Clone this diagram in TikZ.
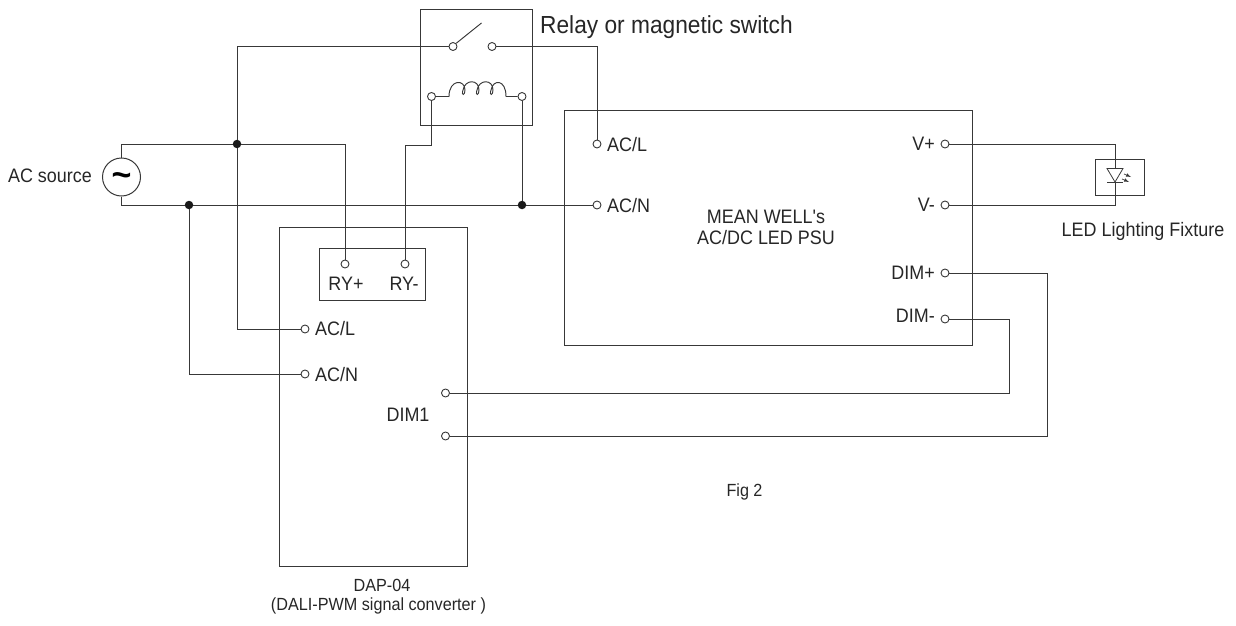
\documentclass[tikz,border=0pt]{standalone}
\usepackage{fontspec}
\setmainfont{Liberation Sans}
\newfontfamily\lf[FakeStretch=0.92]{Liberation Sans}
\tikzset{
 wire/.style={draw=black!78,line width=0.95pt},
 boxx/.style={draw=black!78,line width=0.9pt},
 term/.style={circle,draw=black!78,fill=white,line width=0.9pt,inner sep=0pt,minimum size=8pt},
 dotj/.style={circle,fill=black!90,inner sep=0pt,minimum size=8.5pt},
 lab/.style={inner sep=0pt,font=\lf\fontsize{19.5}{22}\selectfont,text=black!85},
 labs/.style={inner sep=0pt,font=\lf\fontsize{17.6}{20}\selectfont,text=black!85},
}
\begin{document}
\begin{tikzpicture}[x=1pt,y=-1pt]
\useasboundingbox (0,0) rectangle (1236,626);
\draw[boxx] (420.5,9.5) rectangle (532.5,125.5);
\draw[boxx] (564.5,110.5) rectangle (972.5,345.5);
\draw[boxx] (279.5,227.5) rectangle (467.5,566.5);
\draw[boxx] (319.5,248.5) rectangle (425.5,300.5);
\draw[boxx] (1095.5,159.5) rectangle (1144.5,195.5);
\coordinate (swac) at (453,46.5);
\coordinate (swbc) at (492,46.5);
\coordinate (coac) at (431.5,96.5);
\coordinate (cobc) at (522,96.5);
\node[dotj] (j1) at (237,144) {};
\node[dotj] (j2) at (189,205) {};
\node[dotj] (j3) at (522,205) {};
\node[circle,draw=black!78,line width=1pt,minimum size=38pt,inner sep=0pt,fill=white] (ac) at (121.5,177) {};
\node[inner sep=0pt,font=\fontsize{34}{34}\selectfont\bfseries] (tilde) at (121.5,180) {\char"007E};
\node[term] (swa) at (swac) {};
\node[term] (swb) at (swbc) {};
\node[term] (coa) at (coac) {};
\node[term] (cob) at (cobc) {};
\node[term] (pl) at (597,144) {};
\node[term] (pn) at (597,205) {};
\node[term] (vp) at (945,144) {};
\node[term] (vm) at (945,205) {};
\node[term] (dp) at (945,273) {};
\node[term] (dm) at (945,319) {};
\node[term] (ryp) at (345,264) {};
\node[term] (rym) at (405,264) {};
\node[term] (dl) at (305,329) {};
\node[term] (dn) at (305,374) {};
\node[term] (d1) at (445.5,393) {};
\node[term] (d2) at (445.5,436) {};
\draw[wire] (ac.north) -- (121.5,144) -- (j1) -- (345,144) -- (ryp);
\draw[wire] (ac.south) -- (121.5,205) -- (j2) -- (j3) -- (pn);
\draw[wire] (swa) -| (j1);
\draw[wire] (j1) |- (dl);
\draw[wire] (j2) |- (dn);
\draw[wire] (swb) -| (pl);
\draw[wire] (coa) -- (431.5,145) -- (405,145) -- (rym);
\draw[wire] (cob) -- (j3);
\draw[wire] (vp) -| (1115,169);
\draw[wire] (vm) -| (1115,182);
\draw[wire] (dp) -- (1047,273) |- (d2);
\draw[wire] (dm) -- (1009.5,319) |- (d1);
% switch blade
\draw[wire] (swa.north east) -- (481.5,23);
% coil
\draw[wire] (coa) -- (449,96.5) .. controls (449,79) and (465,79) .. (465,90)
 .. controls (465,96) and (461,96) .. (463,90) .. controls (465,79) and (479,79) .. (479,90)
 .. controls (479,96) and (475,96) .. (477,90) .. controls (479,79) and (493,79) .. (493,90)
 .. controls (493,96) and (489,96) .. (491,90) .. controls (493,79) and (506,79) .. (506,96.5) -- (cob);
% LED
\draw[wire,line width=.8pt] (1107,168.5) -- (1123,168.5) -- (1115,182) -- cycle;
\draw[wire] (1107,182) -- (1123,182);
\draw[wire,line width=.7pt,-{latex}] (1124,174) -- (1131,177);
\draw[wire,line width=.7pt,-{latex}] (1122,179) -- (1129,182);
% labels
\node[lab,anchor=west,font=\lf\fontsize{24.7}{28}\selectfont] (t0) at (540,27) {Relay or magnetic switch};
\node[lab,anchor=east] (t1) at (92,176) {AC source};
\node[lab,anchor=west] (t2) at (607,145) {AC/L};
\node[lab,anchor=west] (t3) at (607,206) {AC/N};
\node[lab,anchor=east] (t4) at (935,144) {V+};
\node[lab,anchor=east] (t5) at (935,205) {V-};
\node[lab,anchor=east] (t6) at (935,273) {DIM+};
\node[lab,anchor=east] (t7) at (935,316) {DIM-};
\node[lab] (t8a) at (766,217) {MEAN WELL's};
\node[lab] (t8b) at (766,238) {AC/DC LED PSU};
\node[lab] (t9) at (1143,231) {LED Lighting Fixture};
\node[lab] (t10) at (346,284) {RY+};
\node[lab] (t11) at (404,284) {RY-};
\node[lab,anchor=west] (t12) at (315,329) {AC/L};
\node[lab,anchor=west] (t13) at (315,375) {AC/N};
\node[lab] (t14) at (408,415) {DIM1};
\node[labs] (t15) at (744.5,492) {Fig 2};
\node[labs] (t16a) at (382,585) {DAP-04};
\node[labs] (t16b) at (378.5,606) {(DALI-PWM signal converter )};
\end{tikzpicture}
\end{document}
